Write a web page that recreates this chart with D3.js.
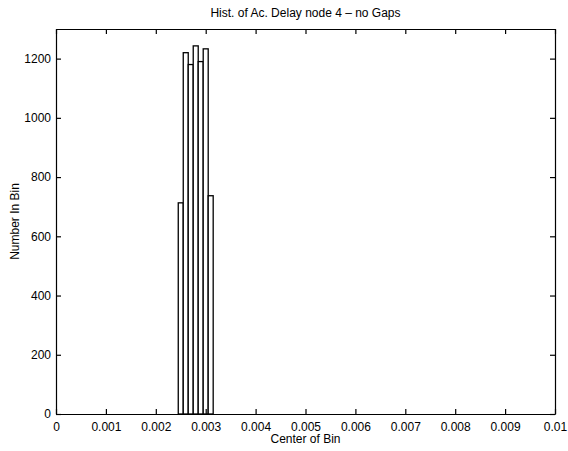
<!DOCTYPE html>
<html>
<head>
<meta charset="utf-8">
<script src="https://cdn.jsdelivr.net/npm/d3@7"></script>
<style>
  body { margin: 0; background: #fff; }
  text { font-family: "Liberation Sans", Arial, sans-serif; fill: #000; }
</style>
</head>
<body>
<script>
// bin centers and counts
const binCenters = [0.0025, 0.0026, 0.0027, 0.0028, 0.0029, 0.0030, 0.0031];
const binCounts = [713, 1220, 1180, 1243, 1190, 1233, 737];
const binWidth = 0.0001;
const xTicks = [0, 0.001, 0.002, 0.003, 0.004, 0.005, 0.006, 0.007, 0.008, 0.009, 0.01];
const yTicks = [0, 200, 400, 600, 800, 1000, 1200];

const width = 568;
const height = 451;
const margin = { top: 29, right: 13, bottom: 37, left: 56 };

const svg = d3.select('body')
  .append('svg')
  .attr('width', width)
  .attr('height', height);

const x = d3.scaleLinear()
  .domain([0, 0.01])
  .range([margin.left, width - margin.right]);

const y = d3.scaleLinear()
  .domain([0, 1300])
  .range([height - margin.bottom, margin.top]);

// bars
svg.append('g')
  .selectAll('rect')
  .data(binCenters)
  .join('rect')
  .attr('x', d => x(d - binWidth / 2))
  .attr('width', d => x(d + binWidth / 2) - x(d - binWidth / 2))
  .attr('y', (d, i) => y(binCounts[i]))
  .attr('height', (d, i) => y(0) - y(binCounts[i]))
  .attr('fill', '#fff')
  .attr('stroke', '#000')
  .attr('stroke-width', 1.3);

// axes, matlab style: ticks inside on all four sides
const fmtX = d => (d === 0 ? '0' : String(+d.toFixed(3)));
const fmtY = d => String(d);

svg.append('g')
  .attr('transform', `translate(0,${y(0)})`)
  .call(d3.axisBottom(x).tickValues(xTicks).tickSizeInner(-5).tickSizeOuter(0).tickPadding(8).tickFormat(fmtX));

svg.append('g')
  .attr('transform', `translate(0,${y(1300)})`)
  .call(d3.axisTop(x).tickValues(xTicks).tickSizeInner(-5).tickSizeOuter(0).tickFormat(''));

svg.append('g')
  .attr('transform', `translate(${x(0)},0)`)
  .call(d3.axisLeft(y).tickValues(yTicks).tickSizeInner(-5).tickSizeOuter(0).tickPadding(5).tickFormat(fmtY));

svg.append('g')
  .attr('transform', `translate(${x(0.01)},0)`)
  .call(d3.axisRight(y).tickValues(yTicks).tickSizeInner(-5).tickSizeOuter(0).tickFormat(''));

svg.selectAll('.domain').attr('stroke', '#000').attr('stroke-width', 1.2);
svg.selectAll('.tick line').attr('stroke', '#000').attr('stroke-width', 1.2);
svg.selectAll('.tick text').attr('font-size', 12).attr('font-family', '"Liberation Sans", Arial, sans-serif');

// labels
svg.append('text')
  .attr('x', (x(0) + x(0.01)) / 2)
  .attr('y', 17)
  .attr('text-anchor', 'middle')
  .attr('font-size', 12)
  .text('Hist. of Ac. Delay node 4 \u2013 no Gaps');

svg.append('text')
  .attr('x', (x(0) + x(0.01)) / 2)
  .attr('y', 443)
  .attr('text-anchor', 'middle')
  .attr('font-size', 12)
  .text('Center of Bin');

svg.append('text')
  .attr('transform', `translate(19,${(y(0) + y(1300)) / 2}) rotate(-90)`)
  .attr('text-anchor', 'middle')
  .attr('font-size', 12)
  .text('Number In Bin');
</script>
</body>
</html>
